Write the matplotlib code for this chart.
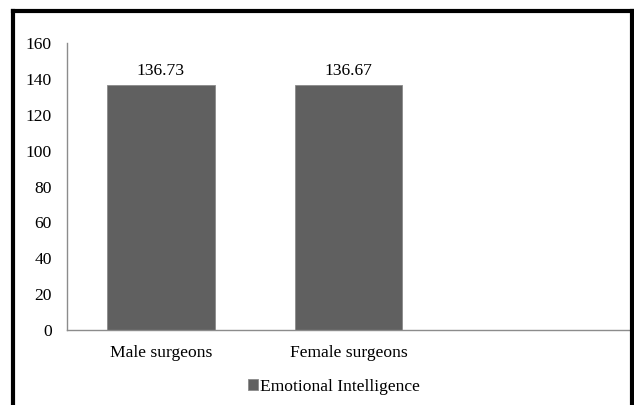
import matplotlib
matplotlib.use("Agg")
import matplotlib.pyplot as plt
from matplotlib.lines import Line2D

categories = ["Male surgeons", "Female surgeons"]
values = [136.73, 136.67]
series_name = "Emotional Intelligence"
yticks = [0, 20, 40, 60, 80, 100, 120, 140, 160]

plt.rcParams['font.family'] = ['Liberation Serif', 'DejaVu Serif']
FS = 12.6

W, H = 634, 405
fig = plt.figure(figsize=(W / 100, H / 100), dpi=100)
fig.patch.set_facecolor("white")

ax = fig.add_axes([67 / W, (H - 330) / H, (630 - 67) / W, (330 - 43) / H])
x = list(range(len(categories)))
bars = ax.bar(x, values, width=0.575, color="#606060", edgecolor="#8a8a8a",
              linewidth=0.6, label=series_name, zorder=2)
for xi, v in zip(x, values):
    ax.text(xi, v + 3.0, f"{v:.2f}", ha="center", va="bottom", fontsize=FS, color="black")

ax.set_xlim(-0.5, 2.5)
ax.set_ylim(0, 160)
ax.set_yticks(yticks)
ax.set_yticklabels([str(t) for t in yticks], fontsize=FS)
ax.set_xticks(x)
ax.set_xticklabels(categories, fontsize=FS)
ax.tick_params(axis="both", length=0, colors="black")
ax.tick_params(axis="y", pad=11)
ax.tick_params(axis="x", pad=11)
for s in ["top", "right"]:
    ax.spines[s].set_visible(False)
for s in ["left", "bottom"]:
    ax.spines[s].set_color("#8c8c8c")
    ax.spines[s].set_linewidth(1.0)

leg = fig.legend(handles=[bars], labels=[series_name], loc="center",
                 bbox_to_anchor=(334 / W, (H - 387) / H), frameon=False,
                 fontsize=FS, handlelength=0.6, handleheight=0.6,
                 handletextpad=0.1)

# outer black frame
lw = 3.0
fig.add_artist(Line2D([13 / W, 13 / W], [0, (H - 11) / H], color="black", lw=lw, transform=fig.transFigure))
fig.add_artist(Line2D([13 / W, 632 / W], [(H - 11) / H, (H - 11) / H], color="black", lw=lw, transform=fig.transFigure))
fig.add_artist(Line2D([632 / W, 632 / W], [0, (H - 11) / H], color="black", lw=lw, transform=fig.transFigure))

fig.savefig("out.png", dpi=100, facecolor="white")
